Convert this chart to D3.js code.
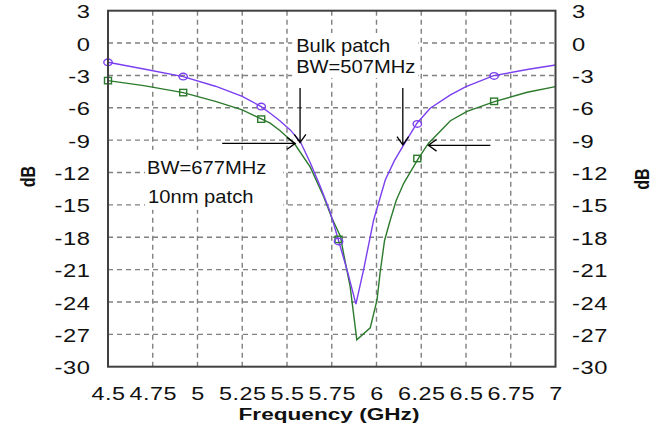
<!DOCTYPE html>
<html><head><meta charset="utf-8">
<script src="https://cdn.jsdelivr.net/npm/d3@7"></script>
<style>body{margin:0;background:#fff}</style>
</head><body>
<svg id="c" width="664" height="430"></svg>
<script>
// ---- data ----
const xTicks = [4.5, 4.75, 5, 5.25, 5.5, 5.75, 6, 6.25, 6.5, 6.75, 7];
const xTickLabels = ["4.5","4.75","5","5.25","5.5","5.75","6","6.25","6.5","6.75","7"];
const yTicks = [3, 0, -3, -6, -9, -12, -15, -18, -21, -24, -27, -30];
const yTickLabels = ["3","0","-3","-6","-9","-12","-15","-18","-21","-24","-27","-30"];

// Bulk patch (purple)
const bulkFreq = [4.5, 4.7, 4.92, 5.1, 5.25, 5.356, 5.406, 5.46, 5.518, 5.574, 5.63, 5.686, 5.74, 5.788, 5.84, 5.885, 5.928, 5.984, 6.049, 6.1, 6.152, 6.226, 6.3, 6.413, 6.5, 6.655, 6.85, 7.0];
const bulkDb   = [-1.78, -2.4, -3.11, -4.0, -4.95, -5.89, -6.5, -7.2, -8.05, -9.13, -11.1, -13.3, -15.6, -18.3, -21.3, -24.2, -21.0, -16.4, -12.7, -10.9, -9.43, -7.43, -6.04, -4.8, -4.03, -3.02, -2.43, -2.03];

// 10nm patch (green)
const filmFreq = [4.5, 4.7, 4.92, 5.1, 5.25, 5.356, 5.406, 5.46, 5.518, 5.546, 5.63, 5.704, 5.75, 5.798, 5.816, 5.853, 5.89, 5.965, 6.003, 6.02, 6.045, 6.077, 6.11, 6.152, 6.235, 6.291, 6.413, 6.506, 6.659, 6.842, 7.0];
const filmDb   = [-3.48, -3.95, -4.59, -5.4, -6.2, -7.03, -7.43, -8.1, -8.97, -9.43, -11.5, -14.2, -16.2, -17.9, -19.5, -22.6, -27.5, -26.4, -23.8, -21.3, -18.3, -16.4, -14.6, -13.0, -10.67, -9.28, -7.2, -6.33, -5.43, -4.56, -4.04];

// markers
const markerFreq   = [4.5, 4.92, 5.356, 5.788, 6.228, 6.657];
const bulkMarkerDb = [-1.78, -3.11, -5.89, -18.39, -7.5, -3.05];
const filmMarkerDb = [-3.48, -4.59, -7.05, -18.2, -10.7, -5.4];

// annotations
const annoTexts = ["Bulk patch", "BW=507MHz", "BW=677MHz", "10nm patch"];
const annoFreq  = [5.551, 5.551, 4.718, 4.724];
const annoDb    = [-0.82, -2.77, -12.12, -14.8];
const boxFreq = [[5.529, 6.234], [4.707, 5.479]];
const boxDb   = [[0.93, -3.23], [-9.9, -15.46]];
const arrowFrom = [[5.573, -4.16], [6.147, -4.16], [5.138, -9.3], [6.636, -9.48]];
const arrowTo   = [[5.573, -9.22], [6.147, -9.43], [5.546, -9.3], [6.29, -9.48]];

// ---- drawing ----
const svg = d3.select("#c");
const L = 108, R = 555.5, T = 10.7, B = 366.7;
const x = d3.scaleLinear().domain([4.5, 7]).range([L, R]);
const y = d3.scaleLinear().domain([-30, 3]).range([B, T]);
const PURPLE = "#7b3ff0", GREEN = "#2c7a2c";
const FONT = "Arial, 'Liberation Sans', sans-serif";

// grid
const grid = svg.append("g").attr("stroke", "#808080").attr("stroke-width", 1.4).attr("stroke-dasharray", "5,4");
grid.selectAll("line.v").data(xTicks.slice(1, -1)).join("line").attr("class", "v")
  .attr("x1", d => x(d)).attr("x2", d => x(d)).attr("y1", B).attr("y2", T);
grid.selectAll("line.h").data(yTicks.slice(1, -1)).join("line").attr("class", "h")
  .attr("x1", L).attr("x2", R).attr("y1", d => y(d)).attr("y2", d => y(d));

// white boxes behind annotation text
svg.append("g").selectAll("rect").data(boxFreq).join("rect")
  .attr("x", (d) => x(d[0])).attr("width", d => x(d[1]) - x(d[0]))
  .attr("y", (d, i) => y(boxDb[i][0])).attr("height", (d, i) => y(boxDb[i][1]) - y(boxDb[i][0]))
  .attr("fill", "#fff");

// curves
const line = d3.line().x(d => x(d[0])).y(d => y(d[1]));
svg.append("path").datum(filmFreq.map((f, i) => [f, filmDb[i]]))
  .attr("d", line).attr("fill", "none").attr("stroke", GREEN).attr("stroke-width", 1.4);
svg.append("path").datum(bulkFreq.map((f, i) => [f, bulkDb[i]]))
  .attr("d", line).attr("fill", "none").attr("stroke", PURPLE).attr("stroke-width", 1.4);

// markers
svg.append("g").selectAll("rect").data(markerFreq).join("rect")
  .attr("x", d => x(d) - 3.5).attr("y", (d, i) => y(filmMarkerDb[i]) - 3.2)
  .attr("width", 7).attr("height", 6.4).attr("fill", "none").attr("stroke", GREEN).attr("stroke-width", 1.4);
svg.append("g").selectAll("ellipse").data(markerFreq).join("ellipse")
  .attr("cx", d => x(d)).attr("cy", (d, i) => y(bulkMarkerDb[i]))
  .attr("rx", 4.2).attr("ry", 3.3).attr("fill", "none").attr("stroke", PURPLE).attr("stroke-width", 1.4);

// arrows
const ag = svg.append("g").attr("stroke", "#000").attr("stroke-width", 1.3).attr("fill", "none");
arrowFrom.forEach((p, i) => {
  const x1 = x(p[0]), y1 = y(p[1]), x2 = x(arrowTo[i][0]), y2 = y(arrowTo[i][1]);
  const a = Math.atan2(y2 - y1, x2 - x1), len = 10, sp = 0.62;
  const pth = d3.path();
  pth.moveTo(x1, y1); pth.lineTo(x2, y2);
  pth.moveTo(x2 - len * Math.cos(a - sp), y2 - len * Math.sin(a - sp));
  pth.lineTo(x2, y2);
  pth.lineTo(x2 - len * Math.cos(a + sp), y2 - len * Math.sin(a + sp));
  ag.append("path").attr("d", pth.toString());
});

// annotation text
svg.append("g").selectAll("text").data(annoTexts).join("text")
  .attr("transform", (d, i) => `translate(${x(annoFreq[i])},${y(annoDb[i])}) scale(1.12,1)`)
  .attr("font-family", FONT).attr("font-size", 18).attr("fill", "#111")
  .text(d => d);

// frame
svg.append("rect").attr("x", L).attr("y", T).attr("width", R - L).attr("height", B - T)
  .attr("fill", "none").attr("stroke", "#404040").attr("stroke-width", 2);

// axes
const xAxis = svg.append("g").attr("transform", `translate(0,${B})`)
  .call(d3.axisBottom(x).tickValues(xTicks).tickFormat((d, i) => xTickLabels[i]).tickSize(0).tickPadding(0));
const yAxisL = svg.append("g").attr("transform", `translate(${L},0)`)
  .call(d3.axisLeft(y).tickValues(yTicks).tickFormat((d, i) => yTickLabels[i]).tickSize(0).tickPadding(0));
const yAxisR = svg.append("g").attr("transform", `translate(${R},0)`)
  .call(d3.axisRight(y).tickValues(yTicks).tickFormat((d, i) => yTickLabels[i]).tickSize(0).tickPadding(0));
[xAxis, yAxisL, yAxisR].forEach(g => {
  g.select(".domain").remove();
  g.attr("font-family", FONT).attr("font-size", 18);
  g.selectAll("text").attr("fill", "#111").attr("letter-spacing", "0.4px");
});
xAxis.selectAll("text").attr("y", null).attr("dy", null)
  .attr("transform", `translate(0,${400 - B}) scale(1.3,1)`);
yAxisL.selectAll("text").attr("x", null).attr("dy", "0.39em")
  .attr("transform", "translate(-17.5,0) scale(1.32,1)");
yAxisR.selectAll("text").attr("x", null).attr("dy", "0.39em")
  .attr("transform", "translate(16.5,0) scale(1.32,1)");

// axis titles
svg.append("text").attr("transform", "translate(329,420) scale(1.33,1)")
  .attr("text-anchor", "middle").attr("font-family", FONT).attr("font-weight", "bold")
  .attr("font-size", 17).attr("fill", "#111").text("Frequency (GHz)");
svg.append("text").attr("transform", "translate(35,176.5) rotate(-90) scale(1,1.3)")
  .attr("text-anchor", "middle").attr("font-family", FONT).attr("font-weight", "bold")
  .attr("font-size", 16).attr("fill", "#111").text("dB");
svg.append("text").attr("transform", "translate(649,179) rotate(-90) scale(1,1.3)")
  .attr("text-anchor", "middle").attr("font-family", FONT).attr("font-weight", "bold")
  .attr("font-size", 16).attr("fill", "#111").text("dB");
</script>
</body></html>
